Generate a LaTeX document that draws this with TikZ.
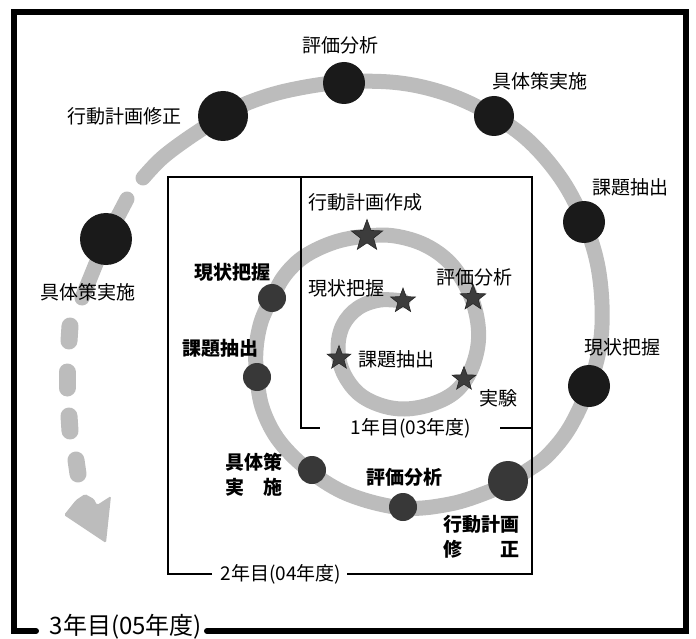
\documentclass[tikz,border=0pt]{standalone}
\usepackage{fontspec}
\setmainfont{Noto Sans CJK JP}
\usetikzlibrary{shapes.geometric}
\definecolor{bandgray}{RGB}{188,188,188}
\definecolor{dotblack}{RGB}{26,26,26}
\definecolor{dotgray}{RGB}{56,56,56}
\definecolor{stargray}{RGB}{60,60,60}
\begin{document}
\begin{tikzpicture}[x=1pt,y=-1pt,
  band/.style={draw=bandgray, line width=15pt, line cap=round, line join=round},
  dashseg/.style={draw=bandgray, line width=17pt, line cap=round},
  odot/.style={circle, fill=dotblack, inner sep=0pt},
  idot/.style={circle, fill=dotgray, inner sep=0pt},
  starmark/.style={star, star points=5, star point ratio=2.4, fill=stargray, draw=black!85, line width=0.6pt, inner sep=0pt},
  lab/.style={font=\fontsize{19}{25}\selectfont, inner sep=0pt, align=center},
  blab/.style={font=\fontsize{19}{25}\selectfont\bfseries, inner sep=0pt, align=center},
  framestroke/.style={line width=6pt},
  boxstroke/.style={line width=1.8pt}]

\useasboundingbox (0,0) rectangle (696,639);

% ---- spiral band ----
\draw[band] plot[smooth, tension=0.6] coordinates {
  (403,301) (380,300) (358,308) (343,325) (338,348) (343,372) (358,393)
  (380,405) (405,409) (432,404) (455,392) (470,372) (478,345) (477,318)
  (468,290) (450,263) (425,245) (395,236) (367,236) (335,242) (305,256)
  (285,275) (272,298) (261,322) (256,350) (257,378) (263,410) (280,442)
  (311,472) (350,495) (403,508) (450,504) (488,492) (508,482) (528,470)
  (548,455) (570,427) (589,386) (600,345) (602,305) (597,262) (584,222)
  (562,180) (530,142) (494,116) (450,95) (400,83) (344,82) (290,90)
  (250,102) (223,116) (190,137) (162,158) (143,178)};
\draw[band] (127,199) -- (106,239);
\draw[band] (106,239) -- (82,298);
\draw[dashseg] (70,326) -- (69,341);
\draw[dashseg] (67,372) -- (67,388);
\draw[dashseg] (69,416) -- (70,431);
\draw[dashseg] (76,460) -- (78,474);
\fill[bandgray, rounded corners=1.5pt] (64,515) -- (76,500) -- (85,494) -- (94,499) -- (97,505) -- (111,496) -- (106,543) -- cycle;

% ---- boxes ----
\draw[boxstroke] (212,574) -- (168,574) -- (168,177) -- (532,177) -- (532,574) -- (347,574);
\draw[boxstroke] (301,177) -- (301,428) -- (320,428);
\draw[boxstroke] (500,428) -- (532,428);

% ---- outer frame ----
\draw[framestroke, line cap=round] (36,631) -- (14,631) -- (14,12) -- (686,12) -- (686,631) -- (207,631);

% ---- dots (year 3) ----
\node[odot, minimum size=42pt] (o1) at (344,83) {};
\node[odot, minimum size=40pt] (o2) at (494,116) {};
\node[odot, minimum size=42pt] (o3) at (584,222) {};
\node[odot, minimum size=42pt] (o4) at (589,386) {};
\node[odot, minimum size=50pt] (o5) at (223,116) {};
\node[odot, minimum size=52pt] (o6) at (106,239) {};

% ---- dots (year 2) ----
\node[idot, minimum size=28pt] (m1) at (272,298) {};
\node[idot, minimum size=28pt] (m2) at (257,377) {};
\node[idot, minimum size=28pt] (m3) at (312,470) {};
\node[idot, minimum size=28pt] (m4) at (403,507) {};
\node[idot, minimum size=40pt] (m5) at (508,481) {};

% ---- stars (year 1) ----
\node[starmark, minimum size=26pt] (s1) at (403,301) {};
\node[starmark, minimum size=25pt] (s2) at (339,358) {};
\node[starmark, minimum size=25pt] (s3) at (464,379) {};
\node[starmark, minimum size=27pt] (s4) at (473,298) {};
\node[starmark, minimum size=33pt] (s5) at (367,236) {};

% ---- labels year 3 ----
\node[lab] (lo1) at (340,45) {評価分析};
\node[lab] (lo2) at (540,81) {具体策実施};
\node[lab] (lo3) at (630,187) {課題抽出};
\node[lab] (lo4) at (622,347) {現状把握};
\node[lab] (lo5) at (124,116) {行動計画修正};
\node[lab] (lo6) at (88,292) {具体策実施};

% ---- labels year 2 ----
\node[blab] (lm1) at (232,272) {現状把握};
\node[blab] (lm2) at (220,348) {課題抽出};
\node[blab] (lm3) at (254,475) {具体策\\実\hspace{1em}施};
\node[blab] (lm4) at (404,477) {評価分析};
\node[blab] (lm5) at (481,537) {行動計画\\修\hspace{2em}正};

% ---- labels year 1 ----
\node[lab] (ls5) at (365,202) {行動計画作成};
\node[lab] (ls4) at (474,277) {評価分析};
\node[lab] (ls1) at (346,288) {現状把握};
\node[lab] (ls2) at (396,359) {課題抽出};
\node[lab] (ls3) at (498,398) {実験};

% ---- year titles ----
\node[lab] (y1) at (411,428) {1年目(03年度)};
\node[lab] (y2) at (281,574) {2年目(04年度)};
\node[lab, font=\fontsize{24}{28}\selectfont] (y3) at (126,627) {3年目(05年度)};
\end{tikzpicture}
\end{document}
